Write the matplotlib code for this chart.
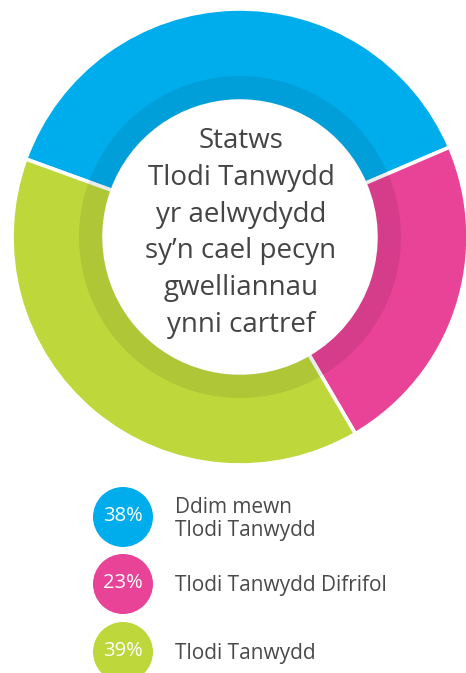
import matplotlib.pyplot as plt
from matplotlib.patches import Wedge, Circle

shares = [38, 23, 39]
colours = ['#00ADEC', '#E84397', '#BED73B']
labels = ['Ddim mewn\nTlodi Tanwydd', 'Tlodi Tanwydd Difrifol', 'Tlodi Tanwydd']
centre_text = "Statws\nTlodi Tanwydd\nyr aelwydydd\nsy\u2019n cael pecyn\ngwelliannau\nynni cartref"

W, H = 466, 673
plt.rcParams['font.family'] = ['Open Sans', 'DejaVu Sans']
fig = plt.figure(figsize=(W / 100, H / 100), dpi=100)
ax = fig.add_axes([0, 0, 1, 1])

cx, cy = 240, H - 237
R, r_in = 228, 136

ax.pie(shares, colors=colours, startangle=160, counterclock=False,
       radius=R, center=(cx, cy), frame=True,
       wedgeprops=dict(width=R - r_in, edgecolor='white', linewidth=2.6))
ax.set_xlim(0, W)
ax.set_ylim(0, H)
ax.set_aspect('equal')
ax.axis('off')

# darker inner band
ax.add_patch(Wedge((cx, cy), 161, 0, 360, width=23.5, facecolor='black', alpha=0.08, lw=0))

ax.text(cx + 1, H - 233, centre_text, ha='center', va='center', fontsize=20,
        color='#444444', linespacing=1.42)

row_y = [517, 584, 652]
for share, col, lab, y in zip(shares, colours, labels, row_y):
    ax.add_patch(Circle((123, H - y), 30, facecolor=col, lw=0))
    ax.text(123, H - y + 1, f'{share}%', ha='center', va='center', fontsize=14.5, color='white')
    ax.text(175, H - y - 2, lab, ha='left', va='center', fontsize=15, color='#4a4a4a',
            linespacing=1.12)

fig.savefig('out.png', dpi=100)
